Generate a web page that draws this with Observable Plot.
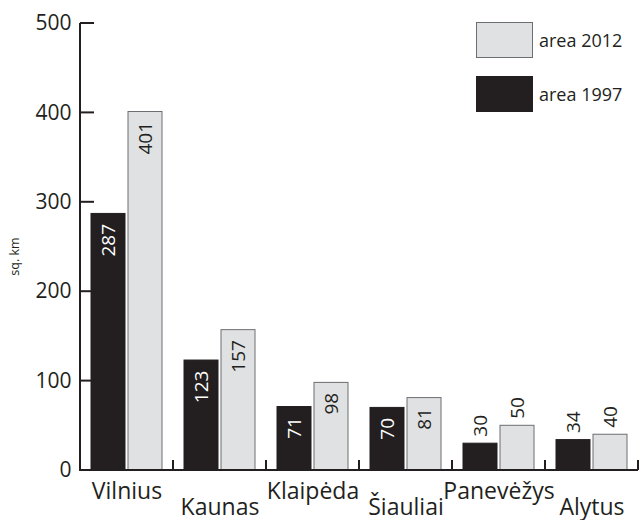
<!DOCTYPE html>
<html>
<head>
<meta charset="utf-8">
<script src="https://cdn.jsdelivr.net/npm/d3@7"></script>
<script src="https://cdn.jsdelivr.net/npm/@observablehq/plot@0.6"></script>
<style>
  body { margin: 0; background: #fff; }
  #wrap { position: relative; width: 641px; height: 520px; font-family: "Open Sans", sans-serif; color: #231f20; }
  .leg { position: absolute; display: flex; align-items: center; font-size: 18px; }
  .sw { width: 57px; height: 36px; box-sizing: border-box; margin-right: 6px; }
</style>
</head>
<body>
<div id="wrap"></div>
<script>
const cities = ["Vilnius", "Kaunas", "Klaipėda", "Šiauliai", "Panevėžys", "Alytus"];
const area1997 = [287, 123, 71, 70, 30, 34];
const area2012 = [401, 157, 98, 81, 50, 40];
const series = ["area 1997", "area 2012"];
const yTicks = [0, 100, 200, 300, 400, 500];

const dark = "#231f20";
const light = "#e0e1e3";
const lightStroke = "#6d6e71";

const rows = [];
cities.forEach((c, i) => {
  rows.push({city: c, series: series[0], value: area1997[i]});
  rows.push({city: c, series: series[1], value: area2012[i]});
});
const inside = rows.filter(d => d.value >= 60);
const above = rows.filter(d => d.value < 60);
const rowA = cities.filter((c, i) => i % 2 === 0);
const rowB = cities.filter((c, i) => i % 2 === 1);

const plot = Plot.plot({
  width: 641,
  height: 520,
  marginLeft: 80,
  marginRight: 3,
  marginTop: 23,
  marginBottom: 50,
  style: {fontFamily: "Open Sans, sans-serif", color: dark, background: "transparent", overflow: "visible"},
  fx: {domain: cities, padding: 0, axis: null},
  x: {domain: series, paddingInner: 0.081, paddingOuter: 0.297, axis: null},
  y: {domain: [0, 500], ticks: yTicks},
  color: {domain: series, range: [dark, light]},
  marks: [
    Plot.barY(rows, {fx: "city", x: "series", y: "value", fill: "series",
      stroke: d => d.series === series[1] ? lightStroke : dark, strokeWidth: 1}),
    Plot.text(inside, {fx: "city", x: "series", y: "value", text: d => String(d.value),
      rotate: -90, textAnchor: "end", lineAnchor: "middle", dy: 10, fontSize: 19,
      fill: d => d.series === series[0] ? "#ffffff" : dark}),
    Plot.text(above, {fx: "city", x: "series", y: "value", text: d => String(d.value),
      rotate: -90, textAnchor: "start", lineAnchor: "middle", dy: -7, fontSize: 19, fill: dark}),
    Plot.text(rowA, {fx: d => d, text: d => d, frameAnchor: "bottom", lineAnchor: "bottom", dy: 28, fontSize: 23, fill: dark}),
    Plot.text(rowB, {fx: d => d, text: d => d, frameAnchor: "bottom", lineAnchor: "bottom", dy: 44, fontSize: 23, fill: dark}),
    Plot.axisY({ticks: yTicks, tickSize: 0, tickPadding: 9, fontSize: 21, label: null})
  ]
});

const wrap = document.getElementById("wrap");
wrap.appendChild(plot);

// axes lines and boundary ticks from the plot's own scales
const svg = d3.select(plot.tagName.toLowerCase() === "svg" ? plot : plot.querySelector("svg"));
const fx = plot.scale("fx");
const y = plot.scale("y");
const y0 = y.apply(0);
const left = fx.apply(cities[0]);
const right = fx.apply(cities[cities.length - 1]) + fx.bandwidth;
const g = svg.append("g").attr("stroke", dark).attr("fill", "none");
g.append("line").attr("x1", left).attr("x2", right).attr("y1", y0).attr("y2", y0).attr("stroke-width", 2);
g.append("line").attr("x1", left).attr("x2", left).attr("y1", y0 + 1).attr("y2", y.apply(500)).attr("stroke-width", 2);
yTicks.forEach(t => {
  g.append("line").attr("x1", left).attr("x2", left + 14).attr("y1", y.apply(t)).attr("y2", y.apply(t)).attr("stroke-width", 2);
});
cities.forEach(c => {
  const xe = fx.apply(c) + fx.bandwidth;
  g.append("line").attr("x1", xe).attr("x2", xe).attr("y1", y0).attr("y2", y0 - 10).attr("stroke-width", 2);
});
// y-axis title
svg.append("text").attr("transform", `translate(19,${(y.apply(0) + y.apply(500)) / 2 + 10}) rotate(-90)`)
  .attr("text-anchor", "middle").attr("font-size", 12.5).attr("fill", dark)
  .attr("font-family", "Open Sans, sans-serif").text("sq. km");

// legend
const legendItems = [
  {label: series[1], fill: light, stroke: lightStroke, top: 22},
  {label: series[0], fill: dark, stroke: dark, top: 76}
];
legendItems.forEach(it => {
  const d = document.createElement("div");
  d.className = "leg";
  d.style.left = "476px";
  d.style.top = it.top + "px";
  d.innerHTML = `<div class="sw" style="background:${it.fill};border:1px solid ${it.stroke}"></div><span>${it.label}</span>`;
  wrap.appendChild(d);
});
</script>
</body>
</html>
